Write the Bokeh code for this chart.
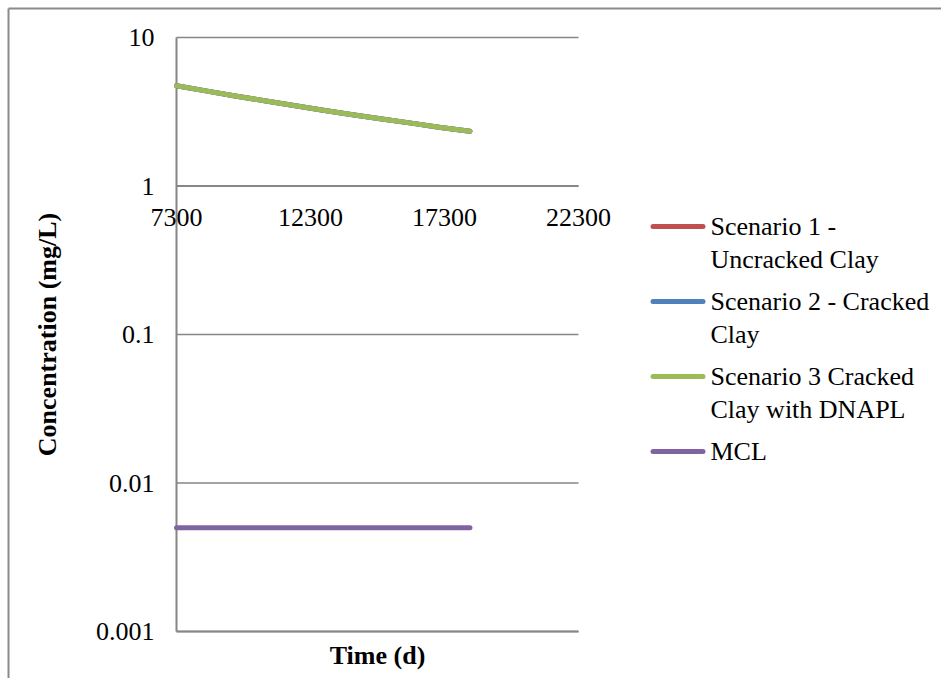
import math
from bokeh.plotting import figure
from bokeh.models import Range1d
from bokeh.core.properties import value
from bokeh.embed import file_html
from bokeh.resources import INLINE

# ---- data ----
time_d = [7300, 8395, 9490, 10585, 11680, 12775, 13870, 14965, 16060, 17155, 18250]
scenario1 = [4.73, 4.37, 4.04, 3.75, 3.48, 3.24, 3.02, 2.83, 2.65, 2.48, 2.34]
scenario2 = [4.73, 4.37, 4.04, 3.75, 3.48, 3.24, 3.02, 2.83, 2.65, 2.48, 2.34]
scenario3 = [4.73, 4.37, 4.04, 3.75, 3.48, 3.24, 3.02, 2.83, 2.65, 2.48, 2.34]
mcl = [0.005] * len(time_d)

x_ticks = [7300, 12300, 17300, 22300]
x_tick_labels = ["7300", "12300", "17300", "22300"]
y_ticks = [0.001, 0.01, 0.1, 1, 10]
y_tick_labels = ["0.001", "0.01", "0.1", "1", "10"]
x_axis_cross = 1  # horizontal axis crosses the vertical axis at y = 1

series_names = ["Scenario 1 -\nUncracked Clay", "Scenario 2 - Cracked\nClay",
                "Scenario 3 Cracked\nClay with DNAPL", "MCL"]
colors = ["#C0504D", "#4F81BD", "#9BBB59", "#8064A2"]

# ---- layout (pixels) ----
W, H = 941, 678
FL, FR, FT, FB = 176, 578, 37, 631   # plotting area edges
FONT = "Liberation Serif"
GRAY = "#868686"
LEG_X0, LEG_X1, LEG_TX = 652.5, 702.5, 710
LEG_TOP, LEG_LINE_H, LEG_GAP = 226, 32.5, 10

xmin, xmax = x_ticks[0], x_ticks[-1]
ymin, ymax = y_ticks[0], y_ticks[-1]
ppx = (FR - FL) / (xmax - xmin)
dec = math.log10(ymax) - math.log10(ymin)
ppd = (FB - FT) / dec


def px_to_x(px):
    return xmin + (px - FL) / ppx


def py_to_y(py):
    return 10 ** (math.log10(ymax) - (py - FT) / ppd)


p = figure(width=W, height=H, output_backend="svg", toolbar_location=None,
           y_axis_type="log",
           x_range=Range1d(px_to_x(0), px_to_x(W)),
           y_range=Range1d(py_to_y(H), py_to_y(0)),
           x_axis_location=None, y_axis_location=None,
           min_border=0)
p.outline_line_color = None
p.background_fill_color = "white"
p.border_fill_color = "white"
p.grid.visible = False

# outer chart border (left and top edges visible)
p.segment(x0=[px_to_x(8), px_to_x(8)], y0=[py_to_y(8), py_to_y(8)],
          x1=[px_to_x(8), px_to_x(W + 20)], y1=[py_to_y(H + 20), py_to_y(8)],
          line_color="#8a8a8a", line_width=2)

# horizontal gridlines
p.segment(x0=[xmin] * len(y_ticks), y0=y_ticks, x1=[xmax] * len(y_ticks), y1=y_ticks,
          line_color=GRAY, line_width=1.5)
# bottom edge + vertical axis + crossing horizontal axis
p.segment(x0=[xmin, xmin, xmin], y0=[ymin, ymin, x_axis_cross],
          x1=[xmax, xmin, xmax], y1=[ymin, ymax, x_axis_cross],
          line_color=GRAY, line_width=2)

for ys, c in zip([scenario1, scenario2, scenario3, mcl], colors):
    p.line(time_d, ys, line_color=c, line_width=5, line_cap="round", line_join="round")

# tick labels
p.text(x=[xmin] * len(y_ticks), y=y_ticks, text=y_tick_labels, x_offset=-22,
       text_align="right", text_baseline="middle", text_font=value(FONT),
       text_font_size=value("26px"), text_color="black")
p.text(x=x_ticks, y=[x_axis_cross] * len(x_ticks), text=x_tick_labels, y_offset=31.5,
       text_align="center", text_baseline="middle", text_font=value(FONT),
       text_font_size=value("26px"), text_color="black")

# axis titles
p.text(x=[(xmin + xmax) / 2], y=[ymin], text=["Time (d)"], y_offset=23.5,
       text_align="center", text_baseline="middle", text_font=value(FONT),
       text_font_style="bold", text_font_size=value("26px"), text_color="black")
p.text(x=[xmin], y=[10 ** ((math.log10(ymin) + math.log10(ymax)) / 2)],
       text=["Concentration (mg/L)"], x_offset=-(FL - 47), angle=math.pi / 2,
       text_align="center", text_baseline="middle", text_font=value(FONT),
       text_font_style="bold", text_font_size=value("26px"), text_color="black")

# legend (swatch aligned with the first line of each label)
sw_y, lab_x, lab_y, lab_t = [], [], [], []
ypos = LEG_TOP
for name in series_names:
    lines = name.split("\n")
    sw_y.append(py_to_y(ypos))
    for k, ln in enumerate(lines):
        lab_x.append(px_to_x(LEG_TX))
        lab_y.append(py_to_y(ypos + k * LEG_LINE_H))
        lab_t.append(ln)
    ypos += len(lines) * LEG_LINE_H + LEG_GAP

p.segment(x0=[px_to_x(LEG_X0)] * len(sw_y), y0=sw_y, x1=[px_to_x(LEG_X1)] * len(sw_y), y1=sw_y,
          line_color=colors, line_width=5, line_cap="round")
p.text(x=lab_x, y=lab_y, text=lab_t, text_align="left", text_baseline="middle",
       text_font=value(FONT), text_font_size=value("26px"), text_color="black")

open("out.html", "w").write(file_html(p, INLINE))
